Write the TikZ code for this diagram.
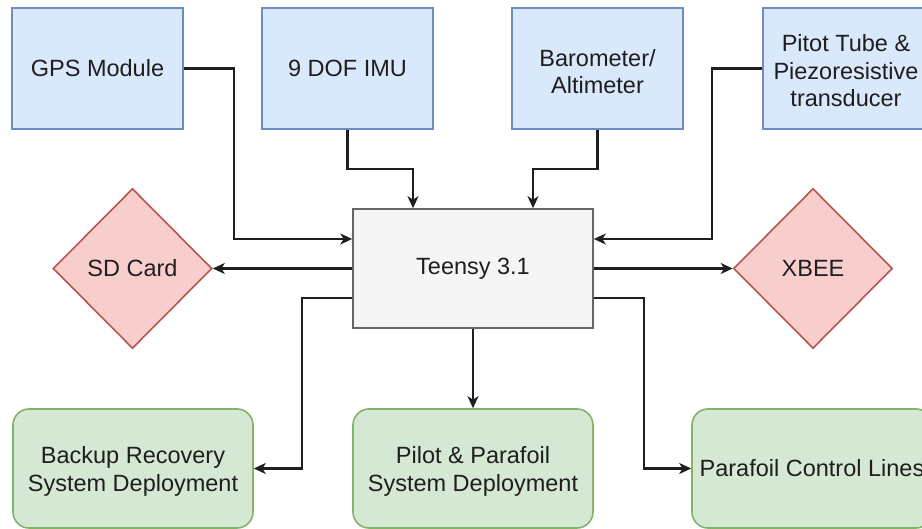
\documentclass[tikz,border=0pt]{standalone}
\usepackage{fontspec}
\setmainfont{Liberation Sans}
\usetikzlibrary{shapes.geometric,arrows.meta,calc}
\definecolor{bluefill}{HTML}{DAE8FC}
\definecolor{bluedraw}{HTML}{6C8EBF}
\definecolor{redfill}{HTML}{F8CECC}
\definecolor{reddraw}{HTML}{B85450}
\definecolor{greenfill}{HTML}{D5E8D4}
\definecolor{greendraw}{HTML}{82B366}
\definecolor{greyfill}{HTML}{F5F5F5}
\definecolor{greydraw}{HTML}{666666}
\definecolor{txt}{HTML}{1E1E1E}
\tikzset{
  base/.style={inner sep=0pt, align=center, text=txt, line width=1.6pt,
    font=\fontsize{23.5}{27.5}\selectfont},
  sensor/.style={base, rectangle, draw=bluedraw, fill=bluefill, minimum width=171pt, minimum height=121pt},
  mcu/.style={base, rectangle, draw=greydraw, fill=greyfill, minimum width=240pt, minimum height=119pt},
  store/.style={base, diamond, aspect=1, draw=reddraw, fill=redfill, minimum width=159pt, minimum height=160pt},
  actuator/.style={base, rectangle, rounded corners=16pt, draw=greendraw, fill=greenfill, minimum width=240pt, minimum height=119pt},
  conn/.style={line width=2.1pt, draw=black!88, -{Stealth[length=12pt,width=11pt,inset=3.5pt]}}
}
\begin{document}
\begin{tikzpicture}[x=1pt,y=-1pt]
\useasboundingbox (0,0) rectangle (922,529);
\clip (0,0) rectangle (922,529);
\node[sensor] (gps) at (97.5,68.5) {\raisebox{-3pt}{GPS Module}};
\node[sensor] (imu) at (347.5,68.5) {\raisebox{-3pt}{9 DOF IMU}};
\node[sensor] (baro) at (597.5,68.5) {};
\node[base] (barotext) at (597.5,71.5) {Barometer/\\Altimeter};
\node[sensor] (pitot) at (848.5,68.5) {};
\node[base] (pitottext) at (846,71) {Pitot Tube \&\\Piezoresistive\\transducer};
\node[mcu] (teensy) at (473,268.5) {\raisebox{-3pt}{Teensy 3.1}};
\node[store] (sd) at (132.5,268.5) {\raisebox{-3pt}{SD Card}};
\node[store] (xbee) at (813,268.5) {\raisebox{-3pt}{XBEE}};
\node[actuator] (backup) at (133,468.5) {};
\node[base] (backuptext) at (133,471.5) {Backup Recovery\\System Deployment};
\node[actuator] (pilot) at (473,468.5) {};
\node[base] (pilottext) at (473,471.5) {Pilot \& Parafoil\\System Deployment};
\node[actuator] (lines) at (812,468.5) {\raisebox{-3pt}{Parafoil Control Lines}};

\draw[conn] (gps.east) -- ++(50,0) |- ([yshift=29.5pt]teensy.west);
\draw[conn] (imu.south) -- ++(0,39) -| ([xshift=-60pt]teensy.north);
\draw[conn] (baro.south) -- ++(0,39) -| ([xshift=60pt]teensy.north);
\draw[conn] (pitot.west) -- ++(-50,0) |- ([yshift=29.5pt]teensy.east);
\draw[conn] (teensy.west) -- (sd.east);
\draw[conn] (teensy.east) -- (xbee.west);
\draw[conn] ([yshift=-29.5pt]teensy.west) -- ++(-50,0) |- (backup.east);
\draw[conn] (teensy.south) -- (pilot.north);
\draw[conn] ([yshift=-29.5pt]teensy.east) -- ++(50,0) |- (lines.west);
\end{tikzpicture}
\end{document}
